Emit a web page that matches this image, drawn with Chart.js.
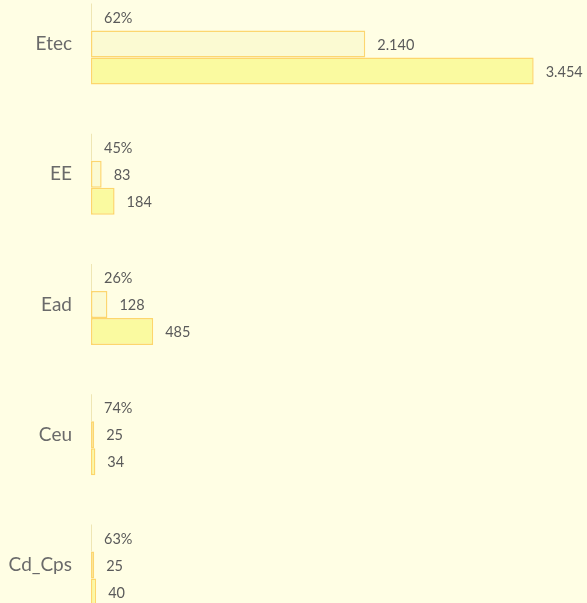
<!DOCTYPE html>
<html>
<head>
<meta charset="utf-8">
<script src="https://cdn.jsdelivr.net/npm/chart.js@4.4.1/dist/chart.umd.min.js"></script>
<style>
  html, body { margin: 0; padding: 0; background: #fffee4; }
  #wrap { width: 587px; height: 603px; }
</style>
</head>
<body>
<div id="wrap"><canvas id="barChart"></canvas></div>
<script>
// categorie e valori
const categories = ['Etec', 'EE', 'Ead', 'Ceu', 'Cd_Cps'];
const ratio = [0.62, 0.45, 0.26, 0.74, 0.63];
const valuesA = [2140, 83, 128, 25, 25];
const valuesB = [3454, 184, 485, 34, 40];

// 2140 -> "2.140"
function fmt(v) {
  return String(v).replace(/\B(?=(\d{3})+(?!\d))/g, '.');
}

// etichette dei valori a destra delle barre
const valueLabels = {
  id: 'valueLabels',
  afterDatasetsDraw(chart) {
    const ctx = chart.ctx;
    ctx.save();
    ctx.font = '14.5px Lato';
    ctx.fillStyle = '#5a5a5a';
    ctx.textBaseline = 'middle';
    ctx.textAlign = 'left';
    chart.data.datasets.forEach((ds, di) => {
      chart.getDatasetMeta(di).data.forEach((bar, i) => {
        const v = ds.data[i];
        const txt = di === 0 ? Math.round(v * 100) + '%' : fmt(v);
        ctx.fillText(txt, bar.x + 12, bar.y + 1);
      });
    });
    ctx.restore();
  }
};

new Chart(document.getElementById('barChart'), {
  type: 'bar',
  data: {
    labels: categories,
    datasets: [
      {
        label: 'Percentuale',
        data: ratio,
        backgroundColor: '#efe6b4',
        borderWidth: 0,
        minBarLength: 1,
        clip: false
      },
      {
        label: 'Serie A',
        data: valuesA,
        backgroundColor: '#fbfad2',
        borderColor: '#fcd670',
        borderWidth: 1.5,
        borderSkipped: false,
        clip: false
      },
      {
        label: 'Serie B',
        data: valuesB,
        backgroundColor: '#fafaa0',
        borderColor: '#fdd66c',
        borderWidth: 1.5,
        borderSkipped: false,
        clip: false
      }
    ]
  },
  options: {
    indexAxis: 'y',
    responsive: true,
    maintainAspectRatio: false,
    animation: false,
    datasets: {
      bar: { categoryPercentage: 0.623, barPercentage: 1 }
    },
    layout: {
      padding: { top: 44, bottom: 38, left: 0, right: 9 }
    },
    plugins: {
      legend: { display: false },
      tooltip: { enabled: false }
    },
    scales: {
      x: {
        display: false,
        min: 0,
        max: 3800
      },
      y: {
        offset: false,
        grid: { display: false },
        border: { display: false },
        ticks: {
          color: '#6a6a6a',
          font: { family: 'Lato', size: 19 },
          padding: 11
        },
        afterFit(scale) { scale.width = 91; }
      }
    }
  },
  plugins: [valueLabels]
});
</script>
</body>
</html>
